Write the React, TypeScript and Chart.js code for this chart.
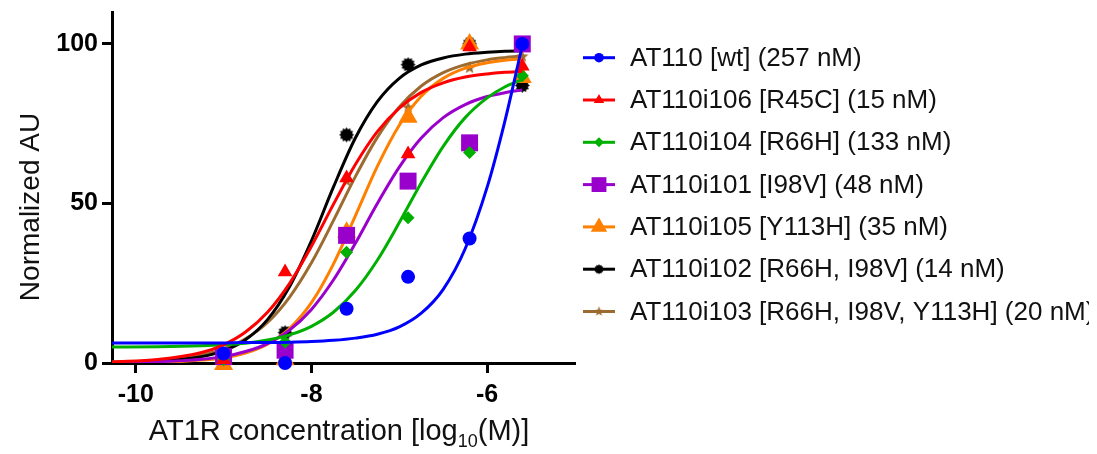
import { useEffect, useRef } from 'react';
import { Chart, registerables } from 'chart.js';

Chart.register(...registerables);

const FONT = '"Liberation Sans", Arial, Helvetica, sans-serif';

// ---------- data ----------
const seriesLabels = [
  'AT110 [wt] (257 nM)',
  'AT110i106 [R45C] (15 nM)',
  'AT110i104 [R66H] (133 nM)',
  'AT110i101 [I98V] (48 nM)',
  'AT110i105 [Y113H] (35 nM)',
  'AT110i102 [R66H, I98V] (14 nM)',
  'AT110i103 [R66H, I98V, Y113H] (20 nM)',
];

const xTicks = [-10, -8, -6];
const yTicks = [0, 50, 100];
const yTitle = 'Normalized AU';
const xTitleMain = 'AT1R concentration [log';
const xTitleSub = '10';
const xTitleEnd = '(M)]';

// measured points (log10 M)
const doseLog = [-9, -8.3, -7.6, -6.9, -6.2, -5.6];
const wtPts = [3, 0, 17, 27, 39, 100];
const r45cPts = [1, 28.5, 58, 65.5, 99, 93];
const r66hPts = [1, 6.6, 34.7, 45.5, 66, 90];
const i98vPts = [2, 4, 40, 57, 69, 100];
const y113hPts = [-0.5, 1, 41, 77, 100, 89.5];
const r66hI98vPts = [2, 9.5, 71.5, 93.5, 100, 87];
const triplePts = [2, 6, 57, 80, 92.5, 96];

// fitted curves
const fitLog = [-10.27, -9.75, -9.25, -9, -8.75, -8.5, -8.25, -8, -7.75, -7.5, -7.25, -7, -6.75, -6.5, -6.25, -6, -5.8, -5.6];
const wtFit = [6.3, 6.3, 6.3, 6.3, 6.4, 6.4, 6.5, 6.7, 7.1, 7.8, 9.0, 11.3, 15.6, 23.1, 35.8, 55.1, 75.6, 99.5];
const r45cFit = [0.3, 1.1, 3.3, 5.7, 9.7, 15.9, 24.9, 36.6, 49.7, 62.2, 72.5, 79.9, 84.8, 87.8, 89.6, 90.6, 91.1, 91.4];
const r66hFit = [5.0, 5.1, 5.4, 5.7, 6.2, 7.2, 8.8, 11.5, 15.9, 22.7, 32.2, 44.0, 56.5, 67.9, 76.9, 83.1, 86.5, 88.8];
const i98vFit = [0.1, 0.4, 1.2, 2.0, 3.6, 6.1, 10.3, 16.8, 26.0, 37.5, 50.0, 61.4, 70.5, 76.9, 81.0, 83.5, 84.7, 85.6];
const y113hFit = [0.1, 0.2, 0.9, 1.6, 3.1, 5.9, 10.8, 18.9, 31.0, 46.1, 61.6, 74.5, 83.6, 89.2, 92.4, 94.1, 94.9, 95.3];
const r66hI98vFit = [0.1, 0.5, 2.0, 3.8, 7.3, 13.6, 23.9, 38.3, 55.1, 70.5, 81.9, 89.2, 93.4, 95.6, 96.8, 97.4, 97.7, 97.8];
const tripleFit = [0.3, 0.8, 2.5, 4.4, 7.6, 12.7, 20.6, 31.4, 44.6, 58.4, 70.7, 80.2, 86.8, 91.0, 93.5, 95.0, 95.7, 96.2];

const allPts = [wtPts, r45cPts, r66hPts, i98vPts, y113hPts, r66hI98vPts, triplePts];
const allFits = [wtFit, r45cFit, r66hFit, i98vFit, y113hFit, r66hI98vFit, tripleFit];

// ---------- styling ----------
const colors = ['#0000FF', '#FF0000', '#00B000', '#9A00CC', '#FF8000', '#000000', '#9C6B30'];

function makeStar(color: string, outer: number, inner: number) {
  const c = document.createElement('canvas');
  const s = Math.ceil(outer * 2 + 2);
  c.width = s;
  c.height = s;
  const g = c.getContext('2d')!;
  g.fillStyle = color;
  g.beginPath();
  for (let k = 0; k < 10; k++) {
    const r = k % 2 === 0 ? outer : inner;
    const a = -Math.PI / 2 + (k * Math.PI) / 5;
    const px = s / 2 + r * Math.cos(a);
    const py = s / 2 + r * Math.sin(a);
    if (k === 0) g.moveTo(px, py);
    else g.lineTo(px, py);
  }
  g.closePath();
  g.fill();
  return c;
}

function makeBlob(color: string, outer: number) {
  const c = document.createElement('canvas');
  const s = Math.ceil(outer * 2 + 2);
  c.width = s;
  c.height = s;
  const g = c.getContext('2d')!;
  g.fillStyle = color;
  g.beginPath();
  const n = 24;
  for (let k = 0; k < n; k++) {
    const r = k % 2 === 0 ? outer : outer * 0.76;
    const a = -Math.PI / 2 + (k * 2 * Math.PI) / n;
    const px = s / 2 + r * Math.cos(a);
    const py = s / 2 + r * Math.sin(a);
    if (k === 0) g.moveTo(px, py);
    else g.lineTo(px, py);
  }
  g.closePath();
  g.fill();
  return c;
}

function drawMarker(ctx: CanvasRenderingContext2D, style: any, x: number, y: number, r: number, color: string) {
  ctx.save();
  ctx.fillStyle = color;
  if (typeof style !== 'string') {
    ctx.drawImage(style, x - style.width / 2, y - style.height / 2);
    ctx.restore();
    return;
  }
  ctx.beginPath();
  if (style === 'circle') {
    ctx.arc(x, y, r, 0, Math.PI * 2);
  } else if (style === 'triangle') {
    let a = 0;
    for (let k = 0; k < 3; k++) {
      const px = x + Math.sin(a) * r;
      const py = y - Math.cos(a) * r;
      if (k === 0) ctx.moveTo(px, py);
      else ctx.lineTo(px, py);
      a += (2 * Math.PI) / 3;
    }
    ctx.closePath();
  } else if (style === 'rectRot') {
    ctx.moveTo(x, y - r);
    ctx.lineTo(x + r, y);
    ctx.lineTo(x, y + r);
    ctx.lineTo(x - r, y);
    ctx.closePath();
  } else if (style === 'rect') {
    const h = r * Math.SQRT1_2;
    ctx.rect(x - h, y - h, 2 * h, 2 * h);
  }
  ctx.fill();
  ctx.restore();
}

export default function App() {
  const ref = useRef<HTMLCanvasElement>(null);

  useEffect(() => {
    const canvas = ref.current!;
    const blob = makeBlob('#000000', 7.5);
    const star = makeStar(colors[6], 6.5, 2.8);
    const blobL = makeBlob('#000000', 5);
    const starL = makeStar(colors[6], 5.2, 2.2);

    const plotStyles: any[] = ['circle', 'triangle', 'rectRot', 'rect', 'triangle', blob, star];
    const plotRadius = [7, 8.5, 6.5, 12, 11, 7, 7];
    const legStyles: any[] = ['circle', 'triangle', 'rectRot', 'rect', 'triangle', blobL, starL];
    const legRadius = [4.8, 6, 5, 10.5, 9.5, 5, 5];

    const datasets: any[] = [];
    allPts.forEach((pts, i) => {
      datasets.push({
        label: seriesLabels[i],
        data: doseLog.map((x, j) => ({ x, y: pts[j] })),
        showLine: false,
        pointStyle: plotStyles[i],
        pointRadius: plotRadius[i],
        pointBackgroundColor: colors[i],
        pointBorderColor: colors[i],
        pointBorderWidth: 0,
        clip: false,
        order: i * 2,
      });
      datasets.push({
        label: seriesLabels[i] + ' fit',
        data: fitLog.map((x, j) => ({ x, y: allFits[i][j] })),
        showLine: true,
        borderColor: colors[i],
        borderWidth: 3,
        pointRadius: 0,
        cubicInterpolationMode: 'monotone',
        fill: false,
        order: i * 2 + 1,
      });
    });

    const overlay = {
      id: 'overlay',
      afterDraw(chart: any) {
        const ctx: CanvasRenderingContext2D = chart.ctx;
        ctx.save();
        ctx.fillStyle = '#111111';
        // y title
        ctx.save();
        ctx.translate(31, 199);
        ctx.rotate(-Math.PI / 2);
        ctx.font = `28px ${FONT}`;
        ctx.textAlign = 'center';
        ctx.textBaseline = 'alphabetic';
        ctx.fillText(yTitle, 0, 0);
        ctx.restore();
        // x title
        const big = `29px ${FONT}`;
        const small = `18px ${FONT}`;
        ctx.font = big;
        const w1 = ctx.measureText(xTitleMain).width;
        const w3 = ctx.measureText(xTitleEnd).width;
        ctx.font = small;
        const w2 = ctx.measureText(xTitleSub).width;
        const x0 = 331 - (w1 + w2 + w3) / 2;
        ctx.textAlign = 'left';
        ctx.textBaseline = 'alphabetic';
        ctx.font = big;
        ctx.fillText(xTitleMain, x0, 432);
        ctx.font = small;
        ctx.fillText(xTitleSub, x0 + w1, 439);
        ctx.font = big;
        ctx.fillText(xTitleEnd, x0 + w1 + w2, 432);
        // legend
        ctx.font = `26px ${FONT}`;
        ctx.textBaseline = 'middle';
        seriesLabels.forEach((lab, i) => {
          const y = 49.7 + i * 42.3;
          ctx.strokeStyle = colors[i];
          ctx.lineWidth = 3;
          ctx.beginPath();
          ctx.moveTo(575, y);
          ctx.lineTo(607, y);
          ctx.stroke();
          drawMarker(ctx, legStyles[i], 591, y, legRadius[i], colors[i]);
          ctx.fillStyle = '#111111';
          ctx.fillText(lab, 622, y + 1);
        });
        ctx.restore();
      },
    };

    const chart = new Chart(canvas, {
      type: 'scatter',
      data: { datasets },
      options: {
        responsive: false,
        animation: false,
        events: [],
        layout: { autoPadding: false, padding: { left: 0, top: 4, right: 514, bottom: 0 } },
        plugins: { legend: { display: false }, tooltip: { enabled: false } },
        scales: {
          x: {
            type: 'linear',
            min: -10.27,
            max: -5.0,
            afterBuildTicks: (s: any) => {
              s.ticks = xTicks.map((v) => ({ value: v }));
            },
            afterFit: (s: any) => {
              s.height = 91;
              s.paddingLeft = 0;
              s.paddingRight = 0;
            },
            grid: {
              display: true,
              drawOnChartArea: false,
              drawTicks: true,
              tickLength: 10,
              tickWidth: 3,
              tickColor: '#000',
            },
            border: { display: true, color: '#000', width: 3 },
            ticks: {
              color: '#000',
              font: { family: FONT, size: 25, weight: 'bold' },
              padding: 7,
              maxRotation: 0,
              autoSkip: false,
              callback: (v: any) => String(v),
            },
          },
          y: {
            min: 0,
            max: 110,
            afterBuildTicks: (s: any) => {
              s.ticks = yTicks.map((v) => ({ value: v }));
            },
            afterFit: (s: any) => {
              s.width = 104;
              s.paddingTop = 0;
              s.paddingBottom = 0;
            },
            grid: {
              display: true,
              drawOnChartArea: false,
              drawTicks: true,
              tickLength: 10,
              tickWidth: 3,
              tickColor: '#000',
            },
            border: { display: true, color: '#000', width: 3 },
            ticks: {
              color: '#000',
              font: { family: FONT, size: 25, weight: 'bold' },
              padding: 4,
              autoSkip: false,
              callback: (v: any) => String(v),
            },
          },
        },
      },
      plugins: [overlay],
    } as any);

    return () => chart.destroy();
  }, []);

  return <canvas ref={ref} width={1081} height={446} style={{ display: 'block' }} />;
}
